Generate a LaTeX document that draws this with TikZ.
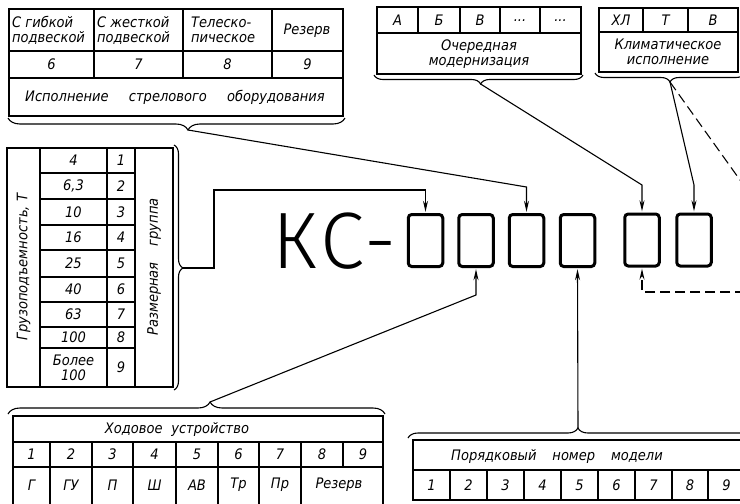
\documentclass[tikz,border=0pt]{standalone}
\usepackage{fontspec}
\setmainfont{DejaVu Sans}[FakeStretch=0.9]
\newfontfamily\kcfont{Fira Sans Light}[LetterSpace=6]
\usetikzlibrary{arrows.meta,decorations.pathreplacing}
\begin{document}
\begin{tikzpicture}[x=1pt,y=-1pt,
  tab/.style={line width=1.1pt},
  frame/.style={line width=1.5pt},
  txt/.style={font=\itshape\fontsize{14.5}{15}\selectfont, inner sep=0pt, align=center},
  conn/.style={line width=1.1pt, -{Stealth[length=11pt,width=5pt]}, shorten >=1.2pt},
  dsh/.style={conn, dash pattern=on 10pt off 5pt},
  dshline/.style={line width=1.1pt, dash pattern=on 10pt off 5pt},
  brc/.style={line width=1.1pt, decorate},
  codebox/.style={draw, line width=3pt, rounded corners=3.5pt, minimum width=34.5pt, minimum height=52pt, inner sep=0pt}
]
\useasboundingbox (0,0) rectangle (740,504);
\clip (0,0) rectangle (740,504);

% ---------- top-left table
\draw[frame] (9,9) rectangle (343,116);
\draw[tab] (9,51) -- (343,51) (9,78) -- (343,78);
\draw[tab] (94,9) -- (94,78) (183,9) -- (183,78) (272,9) -- (272,78);
\node[txt, align=left, anchor=west] (a1) at (12,30) {С гибкой\\подвеской};
\node[txt, align=left, anchor=west] (a2) at (97,30) {С жесткой\\подвеской};
\node[txt, align=left, anchor=west] (a3) at (191,30) {Телеско-\\пическое};
\node[txt] (a4) at (307,31) {Резерв};
\node[txt] (a5) at (51.5,64) {6};
\node[txt] (a6) at (138.5,64) {7};
\node[txt] (a7) at (227.5,64) {8};
\node[txt] (a8) at (307.5,64) {9};
\node[txt] (a9) at (175,97) {Исполнение\hspace{1.4em}стрелового\hspace{1.4em}оборудования};
\draw[brc, decoration={brace, amplitude=12pt, aspect=0.466}] (345,118) -- (8,118);
\coordinate (tl) at (188,130);

% ---------- top-middle table
\draw[frame] (377,7) rectangle (581,74);
\draw[tab] (377,33) -- (581,33);
\draw[tab] (418,7) -- (418,33) (460,7) -- (460,33) (500,7) -- (500,33) (540,7) -- (540,33);
\node[txt] (m1) at (397.5,20) {А};
\node[txt] (m2) at (439,20) {Б};
\node[txt] (m3) at (480,20) {В};
\node[txt] (m4) at (520,21) {...};
\node[txt] (m5) at (560.5,21) {...};
\node[txt] (m6) at (479,54) {Очередная\\модернизация};
\draw[brc, decoration={brace, amplitude=9pt, aspect=0.49}] (583,75) -- (374,75);
\coordinate (tm) at (480.6,84);

% ---------- top-right table
\draw[frame] (599,8) rectangle (738,72);
\draw[tab] (599,32) -- (738,32) (643,8) -- (643,32) (688,8) -- (688,32);
\node[txt] (r1) at (621,20) {ХЛ};
\node[txt] (r2) at (665.5,20) {Т};
\node[txt] (r3) at (713,20) {В};
\node[txt] (r4) at (668,52) {Климатическое\\исполнение};
\draw[brc, decoration={brace, amplitude=9pt, aspect=0.5}] (745,73) -- (595,73);
\coordinate (tr) at (670,82);

% ---------- vertical table
\draw[frame] (7,148) rectangle (173,387);
\draw[tab] (40,148) -- (40,387) (107,148) -- (107,387) (135,148) -- (135,387);
\foreach \yy in {173,199,225,250,277,302,327,348} \draw[tab] (40,\yy) -- (135,\yy);
\foreach \yy/\val/\num [count=\i] in {160.5/4/1, 186/{6,3}/2, 212/10/3, 237.5/16/4, 263.5/25/5, 289.5/40/6, 314.5/63/7, 337.5/100/8}{
  \node[txt] (v\i) at (73.5,\yy) {\val};
  \node[txt] (n\i) at (121,\yy) {\num};
}
\node[txt] (v9) at (73.5,367.5) {Более\\100};
\node[txt] (n9) at (121,367.5) {9};
\node[txt, rotate=90] (vg) at (23.5,267) {Грузоподъемность, Т};
\node[txt, rotate=90] (vr) at (154,267) {Размерная\hspace{1.1em}группа};
\draw[brc, decoration={brace, amplitude=9pt, aspect=0.502}] (174,145) -- (174,390);
\coordinate (vt) at (183,268);

% ---------- bottom-left table
\draw[frame] (13,416) rectangle (383,506);
\draw[tab] (13,442) -- (383,442) (13,467) -- (383,467);
\foreach \xx in {50,92,133,176,218,259,301} \draw[tab] (\xx,442) -- (\xx,506);
\draw[tab] (343,442) -- (343,467);
\node[txt] (h0) at (177,429) {Ходовое\hspace{0.6em}устройство};
\foreach \xx/\lab [count=\i] in {31.5/1, 71/2, 112.5/3, 154.5/4, 197/5, 238.5/6, 280/7, 322/8, 363/9}
  \node[txt] (hn\i) at (\xx,454.5) {\lab};
\foreach \xx/\lab [count=\i] in {31.5/Г, 71/ГУ, 112.5/П, 154.5/Ш, 197/АВ, 238.5/Тр, 280/Пр}
  \node[txt] (hl\i) at (\xx,485) {\lab};
\node[txt] (hl8) at (339,485) {Резерв};
\draw[brc, decoration={brace, amplitude=12pt, aspect=0.536}] (8,414) -- (385,414);
\coordinate (bl) at (210,402);

% ---------- bottom-right table
\draw[frame] (413,440) rectangle (745,500);
\draw[tab] (413,470) -- (745,470);
\foreach \xx in {450,487,524,561,598,635,672,708} \draw[tab] (\xx,470) -- (\xx,500);
\node[txt] (p0) at (557,456) {Порядковый\hspace{1.1em}номер\hspace{1.1em}модели};
\foreach \xx [count=\i] in {431.5,468.5,505.5,542.5,579.5,616.5,653.5,690,726.5}
  \node[txt] (pn\i) at (\xx,485) {\i};
\draw[brc, decoration={brace, amplitude=10pt, aspect=0.494}] (408,438) -- (752,438);
\coordinate (br) at (578,428);

% ---------- code
\node[anchor=base west, inner sep=0pt, font=\kcfont\fontsize{80}{80}\selectfont] (kc) at (272,268) {КС-};
\node[codebox] (b1) at (425.5,240.5) {};
\node[codebox] (b2) at (476,240.5) {};
\node[codebox] (b3) at (526.5,240.5) {};
\node[codebox] (b4) at (577.5,240.5) {};
\node[codebox] (b5) at (642,240) {};
\node[codebox] (b6) at (694,240) {};

% ---------- connectors
\draw[conn] (vt) -- (214,268) -- (214,190) -- (b1.north |- 0,190) -- (b1.north);
\draw[conn] (tl) -- (b3.north |- 0,187) -- (b3.north);
\draw[conn] (tm) -- (b5.north |- 0,185) -- (b5.north);
\draw[conn] (tr) -- (b6.north |- 0,185) -- (b6.north);
\draw[dshline] (tr) -- (745,187);
\coordinate (de) at (745,292);
\draw[dsh] (de) -- (b5.south |- de) -- (b5.south);
\draw[conn] (br) -- (b4.south);
\draw[conn] (bl) -- (b2.south |- 0,295) -- (b2.south);
\end{tikzpicture}
\end{document}
